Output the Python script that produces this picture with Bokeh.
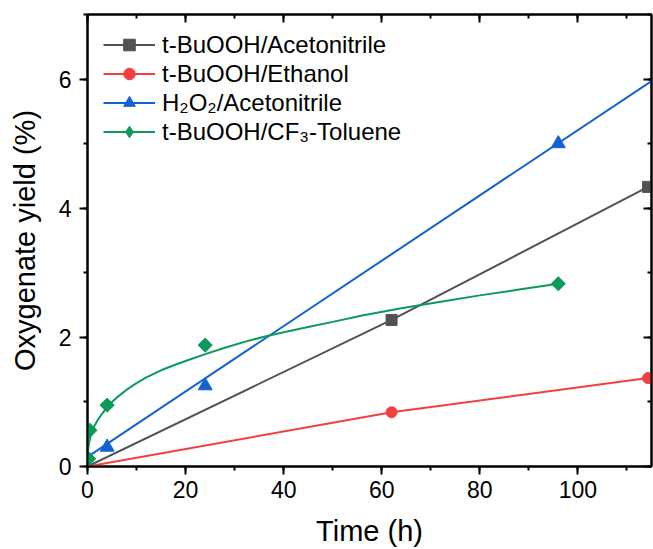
from bokeh.plotting import figure
from bokeh.models import Range1d, LinearAxis, SingleIntervalTicker, Legend, LegendItem, CustomJSTickFormatter
from bokeh.embed import file_html
from bokeh.resources import INLINE
import math

# ---- data ----
acn_x = [0, 62, 114.3]
acn_y = [0, 2.27, 4.33]
eth_x = [0, 62, 114.3]
eth_y = [0, 0.84, 1.37]
h2o2_x = [4, 24, 96]
h2o2_y = [0.30, 1.25, 5.0]
h2o2_fit_x = [0, 115]
h2o2_fit_y = [0.15, 5.97]
cf3_x = [0.25, 0.5, 4, 24, 96]
cf3_y = [0.12, 0.56, 0.95, 1.88, 2.83]
cf3_fit_x = [0, 0.02, 0.05, 0.1, 0.2, 0.3, 0.5, 0.75, 1, 1.5, 2, 3, 4, 5, 6, 8, 10, 12, 15,
             18, 21, 24, 28, 32, 36, 40, 45, 50, 56, 64, 72, 80, 88, 96]
cf3_fit_y = [0, 0.14, 0.19, 0.24, 0.30, 0.36, 0.43, 0.50, 0.56, 0.64, 0.71, 0.82, 0.92, 1.00,
             1.07, 1.19, 1.29, 1.38, 1.49, 1.58, 1.66, 1.74, 1.84, 1.93, 2.01, 2.08, 2.16,
             2.24, 2.34, 2.45, 2.55, 2.65, 2.74, 2.83]

labels = ["t-BuOOH/Acetonitrile", "t-BuOOH/Ethanol", "H\u2082O\u2082/Acetonitrile", "t-BuOOH/CF\u2083-Toluene"]
colors = ["#525252", "#F23F3F", "#1362D2", "#0C9A5C"]

FONT = "Liberation Sans"

p = figure(width=653, height=549, output_backend="svg", toolbar_location=None,
           x_range=Range1d(0, 115), y_range=Range1d(0, 7),
           min_border_left=87, min_border_right=2, min_border_top=14, min_border_bottom=81)
p.xgrid.visible = False
p.ygrid.visible = False
p.outline_line_color = "black"
p.outline_line_width = 2
p.background_fill_color = "white"
p.border_fill_color = "white"

xt = SingleIntervalTicker(interval=20, num_minor_ticks=2)
yt = SingleIntervalTicker(interval=2, num_minor_ticks=2)

def style_axis(ax, labels_on, inward):
    ax.axis_line_width = 2
    ax.major_tick_line_width = 2
    ax.minor_tick_line_width = 2
    if inward:
        ax.major_tick_in, ax.major_tick_out = 8, 0
        ax.minor_tick_in, ax.minor_tick_out = 4, 0
    else:
        ax.major_tick_in, ax.major_tick_out = 0, 8
        ax.minor_tick_in, ax.minor_tick_out = 0, 4
    if labels_on:
        ax.major_label_text_font = FONT
        ax.major_label_text_font_size = "23px"
        ax.major_label_text_color = "black"
        ax.axis_label_text_font = FONT
        ax.axis_label_text_font_size = "29px"
        ax.axis_label_text_font_style = "normal"
        ax.axis_label_text_color = "black"
    else:
        ax.formatter = CustomJSTickFormatter(code="return ''")
        ax.major_label_text_font_size = "1px"
        ax.major_label_standoff = 0

p.xaxis.ticker = xt
p.yaxis.ticker = yt
p.xaxis.axis_label = "Time (h)"
p.yaxis.axis_label = "Oxygenate yield (%)"
style_axis(p.xaxis[0], True, False)
style_axis(p.yaxis[0], True, False)
p.xaxis.major_label_standoff = 6
p.yaxis.major_label_standoff = 8
p.xaxis.axis_label_standoff = 14
p.yaxis.axis_label_standoff = 15

top = LinearAxis(ticker=SingleIntervalTicker(interval=20, num_minor_ticks=2))
right = LinearAxis(ticker=SingleIntervalTicker(interval=2, num_minor_ticks=2))
style_axis(top, False, True)
style_axis(right, False, True)
p.add_layout(top, "above")
p.add_layout(right, "right")

LW = 2
# grey
l1 = p.line(acn_x, acn_y, line_color=colors[0], line_width=LW)
s1 = p.scatter(acn_x[1:], acn_y[1:], marker="square", size=11, fill_color=colors[0], line_color=colors[0])
# red
l2 = p.line(eth_x, eth_y, line_color=colors[1], line_width=LW)
s2 = p.scatter(eth_x[1:], eth_y[1:], marker="circle", size=11, fill_color=colors[1], line_color=colors[1])
# blue
l3 = p.line(h2o2_fit_x, h2o2_fit_y, line_color=colors[2], line_width=LW)
s3 = p.scatter(h2o2_x, h2o2_y, marker="triangle", size=14, fill_color=colors[2], line_color=colors[2])
# green
l4 = p.line(cf3_fit_x, cf3_fit_y, line_color=colors[3], line_width=LW)
s4 = p.scatter(cf3_x, cf3_y, marker="square", angle=math.pi / 4, size=10, fill_color=colors[3], line_color=colors[3])
# legend-only diamond (NaN point, nothing drawn inside the plot)
nan = float("nan")
s4_leg = p.scatter(x=[nan], y=[nan], marker="diamond", size=16, fill_color=colors[3], line_color=colors[3])

legend = Legend(items=[
    LegendItem(label=labels[0], renderers=[l1, s1]),
    LegendItem(label=labels[1], renderers=[l2, s2]),
    LegendItem(label=labels[2], renderers=[l3, s3]),
    LegendItem(label=labels[3], renderers=[l4, s4_leg]),
], location="top_left")
legend.label_text_font = FONT
legend.label_text_font_size = "24px"
legend.label_text_color = "black"
legend.border_line_color = None
legend.background_fill_alpha = 0
legend.glyph_width = 52
legend.glyph_height = 29
legend.label_height = 29
legend.label_standoff = 7
legend.spacing = 0
legend.margin = 16
legend.padding = 0
p.add_layout(legend, "center")

open("out.html", "w").write(file_html(p, INLINE))
